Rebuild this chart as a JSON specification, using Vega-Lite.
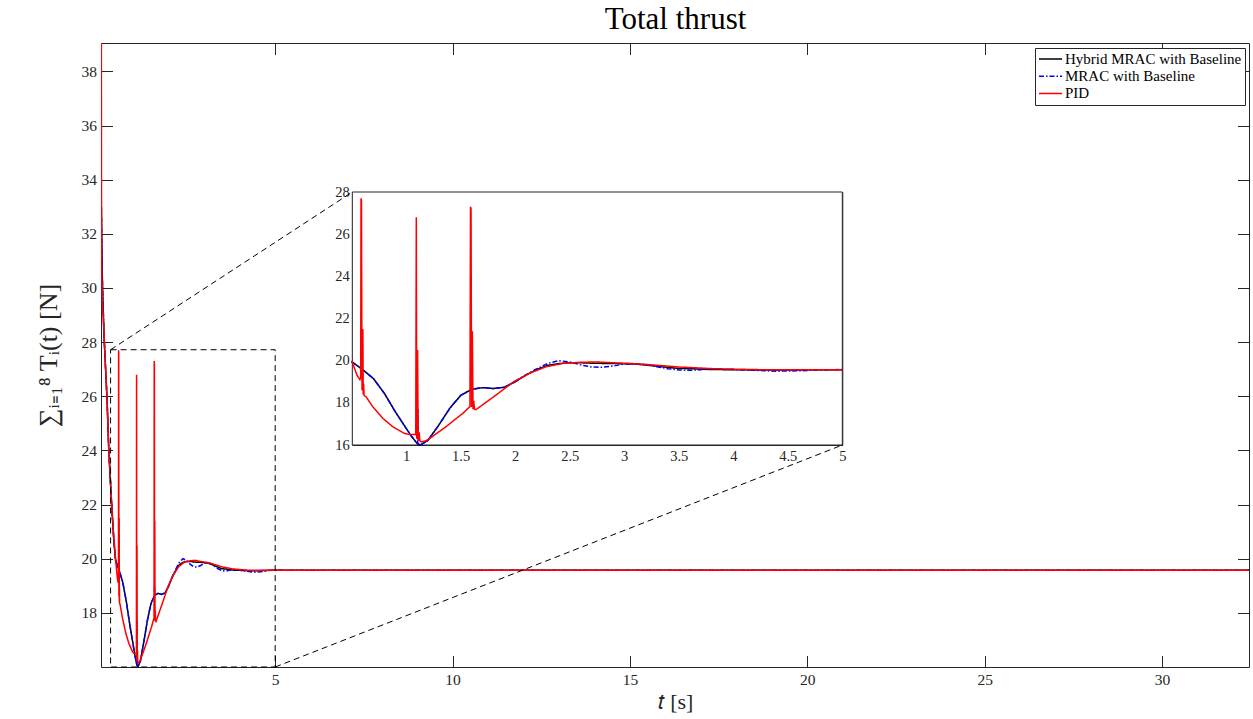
{
  "$schema": "https://vega.github.io/schema/vega-lite/v6.json",
  "width": 1148,
  "height": 624,
  "autosize": {"type": "none"},
  "padding": {"left": 101, "top": 43, "right": 4, "bottom": 52},
  "background": "white",
  "config": {
    "view": {"stroke": null},
    "axis": {"domainColor": "#262626", "tickColor": "#262626", "labelColor": "#262626", "labelFont": "Liberation Serif", "titleFont": "Liberation Serif", "titleFontWeight": "normal", "titleColor": "#262626", "grid": false, "domainWidth": 1, "tickWidth": 1, "zindex": 1, "labelFlush": false, "labelOverlap": false, "minExtent": 0},
    "legend": {"orient": "top-right", "offset": 4.5, "strokeColor": "#262626", "fillColor": "white", "padding": 3, "labelFont": "Liberation Serif", "labelFontSize": 15, "labelColor": "#000000", "labelLimit": 400, "symbolType": "M-1,0H2.3", "symbolSize": 196, "symbolStrokeWidth": 1.5, "rowPadding": 1.2, "labelOffset": 11, "cornerRadius": 0, "title": null}
  },
  "datasets": {
    "ts": [
      {"s": "Hybrid MRAC with Baseline", "t": 0.1, "v": 33.0},
      {"s": "Hybrid MRAC with Baseline", "t": 0.125, "v": 30.5},
      {"s": "Hybrid MRAC with Baseline", "t": 0.15, "v": 29.3},
      {"s": "Hybrid MRAC with Baseline", "t": 0.18, "v": 28.1},
      {"s": "Hybrid MRAC with Baseline", "t": 0.22, "v": 27.0},
      {"s": "Hybrid MRAC with Baseline", "t": 0.26, "v": 25.9},
      {"s": "Hybrid MRAC with Baseline", "t": 0.31, "v": 24.0},
      {"s": "Hybrid MRAC with Baseline", "t": 0.35, "v": 23.0},
      {"s": "Hybrid MRAC with Baseline", "t": 0.39, "v": 22.0},
      {"s": "Hybrid MRAC with Baseline", "t": 0.45, "v": 20.7},
      {"s": "Hybrid MRAC with Baseline", "t": 0.5, "v": 19.95},
      {"s": "Hybrid MRAC with Baseline", "t": 0.6, "v": 19.58},
      {"s": "Hybrid MRAC with Baseline", "t": 0.7, "v": 19.15},
      {"s": "Hybrid MRAC with Baseline", "t": 0.8, "v": 18.45},
      {"s": "Hybrid MRAC with Baseline", "t": 0.9, "v": 17.58},
      {"s": "Hybrid MRAC with Baseline", "t": 1.0, "v": 16.79},
      {"s": "Hybrid MRAC with Baseline", "t": 1.05, "v": 16.4},
      {"s": "Hybrid MRAC with Baseline", "t": 1.1, "v": 16.08},
      {"s": "Hybrid MRAC with Baseline", "t": 1.13, "v": 16.0},
      {"s": "Hybrid MRAC with Baseline", "t": 1.2, "v": 16.22},
      {"s": "Hybrid MRAC with Baseline", "t": 1.3, "v": 16.95},
      {"s": "Hybrid MRAC with Baseline", "t": 1.4, "v": 17.74},
      {"s": "Hybrid MRAC with Baseline", "t": 1.5, "v": 18.35},
      {"s": "Hybrid MRAC with Baseline", "t": 1.6, "v": 18.64},
      {"s": "Hybrid MRAC with Baseline", "t": 1.7, "v": 18.72},
      {"s": "Hybrid MRAC with Baseline", "t": 1.8, "v": 18.68},
      {"s": "Hybrid MRAC with Baseline", "t": 1.9, "v": 18.74},
      {"s": "Hybrid MRAC with Baseline", "t": 2.0, "v": 19.0},
      {"s": "Hybrid MRAC with Baseline", "t": 2.1, "v": 19.32},
      {"s": "Hybrid MRAC with Baseline", "t": 2.2, "v": 19.58},
      {"s": "Hybrid MRAC with Baseline", "t": 2.3, "v": 19.78},
      {"s": "Hybrid MRAC with Baseline", "t": 2.4, "v": 19.86},
      {"s": "Hybrid MRAC with Baseline", "t": 2.5, "v": 19.9},
      {"s": "Hybrid MRAC with Baseline", "t": 2.6, "v": 19.9},
      {"s": "Hybrid MRAC with Baseline", "t": 2.7, "v": 19.88},
      {"s": "Hybrid MRAC with Baseline", "t": 2.8, "v": 19.87},
      {"s": "Hybrid MRAC with Baseline", "t": 2.9, "v": 19.87},
      {"s": "Hybrid MRAC with Baseline", "t": 3.0, "v": 19.85},
      {"s": "Hybrid MRAC with Baseline", "t": 3.1, "v": 19.84},
      {"s": "Hybrid MRAC with Baseline", "t": 3.2, "v": 19.79},
      {"s": "Hybrid MRAC with Baseline", "t": 3.3, "v": 19.74},
      {"s": "Hybrid MRAC with Baseline", "t": 3.4, "v": 19.68},
      {"s": "Hybrid MRAC with Baseline", "t": 3.5, "v": 19.63},
      {"s": "Hybrid MRAC with Baseline", "t": 3.6, "v": 19.62},
      {"s": "Hybrid MRAC with Baseline", "t": 3.7, "v": 19.6},
      {"s": "Hybrid MRAC with Baseline", "t": 3.8, "v": 19.58},
      {"s": "Hybrid MRAC with Baseline", "t": 4.0, "v": 19.57},
      {"s": "Hybrid MRAC with Baseline", "t": 4.2, "v": 19.56},
      {"s": "Hybrid MRAC with Baseline", "t": 4.4, "v": 19.56},
      {"s": "Hybrid MRAC with Baseline", "t": 4.6, "v": 19.56},
      {"s": "Hybrid MRAC with Baseline", "t": 4.8, "v": 19.57},
      {"s": "Hybrid MRAC with Baseline", "t": 5.0, "v": 19.57},
      {"s": "Hybrid MRAC with Baseline", "t": 6.0, "v": 19.57},
      {"s": "Hybrid MRAC with Baseline", "t": 10.0, "v": 19.57},
      {"s": "Hybrid MRAC with Baseline", "t": 20.0, "v": 19.57},
      {"s": "Hybrid MRAC with Baseline", "t": 32.45, "v": 19.57},

      {"s": "MRAC with Baseline", "t": 0.1, "v": 33.0},
      {"s": "MRAC with Baseline", "t": 0.125, "v": 30.5},
      {"s": "MRAC with Baseline", "t": 0.15, "v": 29.3},
      {"s": "MRAC with Baseline", "t": 0.18, "v": 28.1},
      {"s": "MRAC with Baseline", "t": 0.22, "v": 27.0},
      {"s": "MRAC with Baseline", "t": 0.26, "v": 25.9},
      {"s": "MRAC with Baseline", "t": 0.31, "v": 24.0},
      {"s": "MRAC with Baseline", "t": 0.35, "v": 23.0},
      {"s": "MRAC with Baseline", "t": 0.39, "v": 22.0},
      {"s": "MRAC with Baseline", "t": 0.45, "v": 20.7},
      {"s": "MRAC with Baseline", "t": 0.5, "v": 19.95},
      {"s": "MRAC with Baseline", "t": 0.6, "v": 19.58},
      {"s": "MRAC with Baseline", "t": 0.7, "v": 19.15},
      {"s": "MRAC with Baseline", "t": 0.8, "v": 18.45},
      {"s": "MRAC with Baseline", "t": 0.9, "v": 17.58},
      {"s": "MRAC with Baseline", "t": 1.0, "v": 16.79},
      {"s": "MRAC with Baseline", "t": 1.05, "v": 16.4},
      {"s": "MRAC with Baseline", "t": 1.1, "v": 16.08},
      {"s": "MRAC with Baseline", "t": 1.105, "v": 16.05},
      {"s": "MRAC with Baseline", "t": 1.108, "v": 17.7},
      {"s": "MRAC with Baseline", "t": 1.112, "v": 16.05},
      {"s": "MRAC with Baseline", "t": 1.13, "v": 16.0},
      {"s": "MRAC with Baseline", "t": 1.2, "v": 16.22},
      {"s": "MRAC with Baseline", "t": 1.3, "v": 16.95},
      {"s": "MRAC with Baseline", "t": 1.4, "v": 17.74},
      {"s": "MRAC with Baseline", "t": 1.5, "v": 18.35},
      {"s": "MRAC with Baseline", "t": 1.595, "v": 18.62},
      {"s": "MRAC with Baseline", "t": 1.6, "v": 19.0},
      {"s": "MRAC with Baseline", "t": 1.605, "v": 18.65},
      {"s": "MRAC with Baseline", "t": 1.7, "v": 18.72},
      {"s": "MRAC with Baseline", "t": 1.8, "v": 18.68},
      {"s": "MRAC with Baseline", "t": 1.9, "v": 18.74},
      {"s": "MRAC with Baseline", "t": 2.0, "v": 19.0},
      {"s": "MRAC with Baseline", "t": 2.1, "v": 19.34},
      {"s": "MRAC with Baseline", "t": 2.2, "v": 19.62},
      {"s": "MRAC with Baseline", "t": 2.3, "v": 19.87},
      {"s": "MRAC with Baseline", "t": 2.4, "v": 20.0},
      {"s": "MRAC with Baseline", "t": 2.5, "v": 19.94},
      {"s": "MRAC with Baseline", "t": 2.6, "v": 19.8},
      {"s": "MRAC with Baseline", "t": 2.7, "v": 19.7},
      {"s": "MRAC with Baseline", "t": 2.8, "v": 19.69},
      {"s": "MRAC with Baseline", "t": 2.9, "v": 19.75},
      {"s": "MRAC with Baseline", "t": 3.0, "v": 19.84},
      {"s": "MRAC with Baseline", "t": 3.1, "v": 19.85},
      {"s": "MRAC with Baseline", "t": 3.2, "v": 19.82},
      {"s": "MRAC with Baseline", "t": 3.3, "v": 19.71},
      {"s": "MRAC with Baseline", "t": 3.4, "v": 19.62},
      {"s": "MRAC with Baseline", "t": 3.5, "v": 19.56},
      {"s": "MRAC with Baseline", "t": 3.6, "v": 19.54},
      {"s": "MRAC with Baseline", "t": 3.7, "v": 19.57},
      {"s": "MRAC with Baseline", "t": 3.8, "v": 19.6},
      {"s": "MRAC with Baseline", "t": 3.9, "v": 19.6},
      {"s": "MRAC with Baseline", "t": 4.0, "v": 19.58},
      {"s": "MRAC with Baseline", "t": 4.2, "v": 19.54},
      {"s": "MRAC with Baseline", "t": 4.4, "v": 19.5},
      {"s": "MRAC with Baseline", "t": 4.6, "v": 19.52},
      {"s": "MRAC with Baseline", "t": 4.8, "v": 19.56},
      {"s": "MRAC with Baseline", "t": 5.0, "v": 19.58},
      {"s": "MRAC with Baseline", "t": 6.0, "v": 19.57},
      {"s": "MRAC with Baseline", "t": 10.0, "v": 19.57},
      {"s": "MRAC with Baseline", "t": 20.0, "v": 19.57},
      {"s": "MRAC with Baseline", "t": 32.45, "v": 19.57},

      {"s": "PID", "t": 0.1, "v": 39.05},
      {"s": "PID", "t": 0.105, "v": 31.0},
      {"s": "PID", "t": 0.13, "v": 29.5},
      {"s": "PID", "t": 0.18, "v": 28.2},
      {"s": "PID", "t": 0.22, "v": 27.0},
      {"s": "PID", "t": 0.26, "v": 25.9},
      {"s": "PID", "t": 0.31, "v": 24.0},
      {"s": "PID", "t": 0.35, "v": 23.0},
      {"s": "PID", "t": 0.39, "v": 22.0},
      {"s": "PID", "t": 0.45, "v": 20.8},
      {"s": "PID", "t": 0.5, "v": 20.0},
      {"s": "PID", "t": 0.55, "v": 19.3},
      {"s": "PID", "t": 0.576, "v": 19.1},
      {"s": "PID", "t": 0.583, "v": 19.2},
      {"s": "PID", "t": 0.586, "v": 27.7},
      {"s": "PID", "t": 0.59, "v": 27.6},
      {"s": "PID", "t": 0.595, "v": 18.6},
      {"s": "PID", "t": 0.6, "v": 18.7},
      {"s": "PID", "t": 0.603, "v": 21.5},
      {"s": "PID", "t": 0.606, "v": 18.4},
      {"s": "PID", "t": 0.61, "v": 18.9},
      {"s": "PID", "t": 0.614, "v": 18.35},
      {"s": "PID", "t": 0.632, "v": 18.29},
      {"s": "PID", "t": 0.693, "v": 17.82},
      {"s": "PID", "t": 0.785, "v": 17.27},
      {"s": "PID", "t": 0.876, "v": 16.87},
      {"s": "PID", "t": 0.983, "v": 16.55},
      {"s": "PID", "t": 1.03, "v": 16.5},
      {"s": "PID", "t": 1.088, "v": 16.5},
      {"s": "PID", "t": 1.093, "v": 26.8},
      {"s": "PID", "t": 1.097, "v": 16.3},
      {"s": "PID", "t": 1.105, "v": 20.5},
      {"s": "PID", "t": 1.11, "v": 16.2},
      {"s": "PID", "t": 1.12, "v": 16.6},
      {"s": "PID", "t": 1.125, "v": 16.2},
      {"s": "PID", "t": 1.136, "v": 16.15},
      {"s": "PID", "t": 1.182, "v": 16.2},
      {"s": "PID", "t": 1.213, "v": 16.3},
      {"s": "PID", "t": 1.366, "v": 16.87},
      {"s": "PID", "t": 1.519, "v": 17.5},
      {"s": "PID", "t": 1.585, "v": 17.82},
      {"s": "PID", "t": 1.59, "v": 27.3},
      {"s": "PID", "t": 1.595, "v": 27.2},
      {"s": "PID", "t": 1.6, "v": 17.8},
      {"s": "PID", "t": 1.607, "v": 21.4},
      {"s": "PID", "t": 1.613, "v": 17.7},
      {"s": "PID", "t": 1.62, "v": 18.1},
      {"s": "PID", "t": 1.626, "v": 17.7},
      {"s": "PID", "t": 1.641, "v": 17.68},
      {"s": "PID", "t": 1.824, "v": 18.37},
      {"s": "PID", "t": 1.986, "v": 19.0},
      {"s": "PID", "t": 2.13, "v": 19.4},
      {"s": "PID", "t": 2.283, "v": 19.71},
      {"s": "PID", "t": 2.436, "v": 19.87},
      {"s": "PID", "t": 2.589, "v": 19.92},
      {"s": "PID", "t": 2.742, "v": 19.94},
      {"s": "PID", "t": 2.895, "v": 19.9},
      {"s": "PID", "t": 3.05, "v": 19.87},
      {"s": "PID", "t": 3.2, "v": 19.82},
      {"s": "PID", "t": 3.353, "v": 19.76},
      {"s": "PID", "t": 3.5, "v": 19.7},
      {"s": "PID", "t": 3.659, "v": 19.66},
      {"s": "PID", "t": 3.812, "v": 19.62},
      {"s": "PID", "t": 3.996, "v": 19.6},
      {"s": "PID", "t": 4.27, "v": 19.57},
      {"s": "PID", "t": 4.58, "v": 19.57},
      {"s": "PID", "t": 5.0, "v": 19.57},
      {"s": "PID", "t": 6.0, "v": 19.57},
      {"s": "PID", "t": 10.0, "v": 19.57},
      {"s": "PID", "t": 20.0, "v": 19.57},
      {"s": "PID", "t": 32.45, "v": 19.57}
    ],
    "zoombox": [{"x1": 0.36, "x2": 5, "y1": 16, "y2": 27.72}],
    "connectors": [
      {"x1": 0.36, "y1": 27.72, "x2": 7.18, "y2": 33.55},
      {"x1": 5, "y1": 16, "x2": 20.99, "y2": 24.2}
    ],
    "insetframe": [{"x1": 0.506, "x2": 5, "y1": 16, "y2": 28}]
  },
  "layer": [
    {
      "data": {"name": "ts"},
      "mark": {"type": "line", "clip": true},
      "encoding": {
        "x": {"field": "t", "type": "quantitative", "scale": {"domain": [0.09, 32.45], "nice": false, "zero": false},
          "axis": {"orient": "bottom", "zindex": 0, "values": [5, 10, 15, 20, 25, 30], "tickSize": -11.5, "labelPadding": 16.5, "labelFontSize": 15.5, "title": "𝑡 [s]", "titleFontSize": 22, "titlePadding": 4}},
        "y": {"field": "v", "type": "quantitative", "scale": {"domain": [16, 39.05], "nice": false, "zero": false},
          "axis": {"orient": "left", "zindex": 0, "values": [18, 20, 22, 24, 26, 28, 30, 32, 34, 36, 38], "tickSize": -11.5, "labelPadding": 16, "labelFontSize": 15.5, "title": "∑ᵢ₌₁⁸ Tᵢ(t)  [N]", "titleFontSize": 26, "titlePadding": 20}},
        "color": {"field": "s", "type": "nominal", "scale": {"domain": ["Hybrid MRAC with Baseline", "MRAC with Baseline", "PID"], "range": ["#000000", "#0000ff", "#ff0000"]}},
        "strokeDash": {"field": "s", "type": "nominal", "scale": {"domain": ["Hybrid MRAC with Baseline", "MRAC with Baseline", "PID"], "range": [[1, 0], [5, 2, 1.5, 2], [1, 0]]}},
        "strokeWidth": {"field": "s", "type": "nominal", "scale": {"domain": ["Hybrid MRAC with Baseline", "MRAC with Baseline", "PID"], "range": [1.5, 1.5, 1.2]}}
      }
    },
    {
      "layer": [
        {
          "data": {"name": "zoombox"},
          "mark": {"type": "rect", "fill": null, "fillOpacity": 0, "stroke": "#000000", "strokeWidth": 1, "strokeDash": [6, 4]},
          "encoding": {
            "x": {"field": "x1", "type": "quantitative", "scale": {"domain": [0.09, 32.45], "nice": false, "zero": false},
              "axis": {"orient": "top", "values": [5, 10, 15, 20, 25, 30], "tickSize": -11.5, "labels": false, "title": "Total thrust", "titleFont": "Liberation Serif", "titleFontSize": 31, "titleFontWeight": "normal", "titleColor": "#000000", "titleBaseline": "alphabetic", "titlePadding": 14}},
            "x2": {"field": "x2"},
            "y": {"field": "y1", "type": "quantitative", "scale": {"domain": [16, 39.05], "nice": false, "zero": false},
              "axis": {"orient": "right", "values": [18, 20, 22, 24, 26, 28, 30, 32, 34, 36, 38], "tickSize": -11.5, "labels": false, "title": null}},
            "y2": {"field": "y2"}
          }
        },
        {
          "data": {"name": "connectors"},
          "mark": {"type": "rule", "stroke": "#000000", "strokeWidth": 1, "strokeDash": [6, 4]},
          "encoding": {
            "x": {"field": "x1", "type": "quantitative"},
            "x2": {"field": "x2"},
            "y": {"field": "y1", "type": "quantitative"},
            "y2": {"field": "y2"}
          }
        }
      ]
    },
    {
      "data": {"name": "insetframe"},
      "mark": {"type": "rect", "fill": "white", "stroke": "#262626", "strokeWidth": 1},
      "encoding": {
        "x": {"field": "x1", "type": "quantitative", "scale": {"domain": [0.506, 5], "range": [251.3, 741.3], "nice": false, "zero": false}, "axis": null},
        "x2": {"field": "x2"},
        "y": {"field": "y1", "type": "quantitative", "scale": {"domain": [16, 28], "range": [402, 149], "nice": false, "zero": false},
          "axis": {"orient": "right", "offset": -406.7, "values": [16, 18, 20, 22, 24, 26, 28], "tickSize": -5, "labels": false, "title": null}},
        "y2": {"field": "y2"}
      }
    },
    {
      "data": {"name": "ts"},
      "transform": [{"filter": "datum.t >= 0.5 && datum.t <= 5"}],
      "mark": {"type": "line"},
      "encoding": {
        "x": {"field": "t", "type": "quantitative", "scale": {"domain": [0.506, 5], "range": [251.3, 741.3], "nice": false, "zero": false},
          "axis": {"orient": "bottom", "offset": -222, "values": [1, 1.5, 2, 2.5, 3, 3.5, 4, 4.5, 5], "format": "~g", "tickSize": -5, "labelPadding": 9.7, "labelFontSize": 14.5, "title": null}},
        "y": {"field": "v", "type": "quantitative", "scale": {"domain": [16, 28], "range": [402, 149], "nice": false, "zero": false},
          "axis": {"orient": "left", "offset": -251.3, "values": [16, 18, 20, 22, 24, 26, 28], "tickSize": -5, "labelPadding": 8, "labelFontSize": 14.5, "title": null}},
        "color": {"field": "s", "type": "nominal", "scale": {"domain": ["Hybrid MRAC with Baseline", "MRAC with Baseline", "PID"], "range": ["#000000", "#0000ff", "#ff0000"]}},
        "strokeDash": {"field": "s", "type": "nominal", "scale": {"domain": ["Hybrid MRAC with Baseline", "MRAC with Baseline", "PID"], "range": [[1, 0], [5, 2, 1.5, 2], [1, 0]]}},
        "strokeWidth": {"field": "s", "type": "nominal", "scale": {"domain": ["Hybrid MRAC with Baseline", "MRAC with Baseline", "PID"], "range": [1.5, 1.5, 1.2]}}
      }
    }
  ],
  "resolve": {"scale": {"x": "independent", "y": "independent"}}
}
